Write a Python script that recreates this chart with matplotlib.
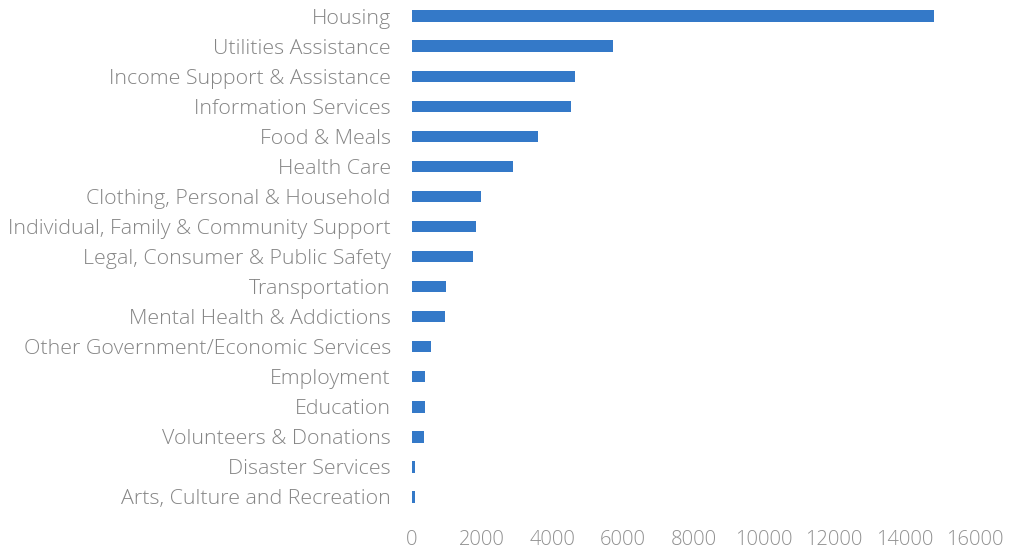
import matplotlib
matplotlib.use('Agg')
import matplotlib.pyplot as plt

categories = [
    'Housing',
    'Utilities Assistance',
    'Income Support & Assistance',
    'Information Services',
    'Food & Meals',
    'Health Care',
    'Clothing, Personal & Household',
    'Individual, Family & Community Support',
    'Legal, Consumer & Public Safety',
    'Transportation',
    'Mental Health & Addictions',
    'Other Government/Economic Services',
    'Employment',
    'Education',
    'Volunteers & Donations',
    'Disaster Services',
    'Arts, Culture and Recreation',
]
requests = [14850, 5730, 4650, 4520, 3600, 2880, 1980, 1840, 1740,
            970, 940, 550, 370, 380, 350, 80, 80]
x_ticks = [0, 2000, 4000, 6000, 8000, 10000, 12000, 14000, 16000]

plt.rcParams['font.family'] = ['Open Sans', 'DejaVu Sans']
plt.rcParams['font.weight'] = 'light'

fig = plt.figure(figsize=(10.14, 5.54), dpi=100)
ax = fig.add_axes([0.406, 0.0758, 0.5555, 0.9222])

y = list(range(len(categories)))
ax.barh(y, requests, height=0.38, color='#3479C8')

ax.set_yticks(y)
ax.set_yticklabels(categories)
ax.set_ylim(len(categories) - 0.5, -0.5)
ax.set_xticks(x_ticks)
ax.set_xlim(0, 16000)

ax.tick_params(axis='y', length=0, pad=15, labelsize=15.4, labelcolor='#858585')
ax.tick_params(axis='x', length=0, pad=13, labelsize=14.5, labelcolor='#909090')
for side in ax.spines.values():
    side.set_visible(False)

fig.savefig('out.png', dpi=100)
